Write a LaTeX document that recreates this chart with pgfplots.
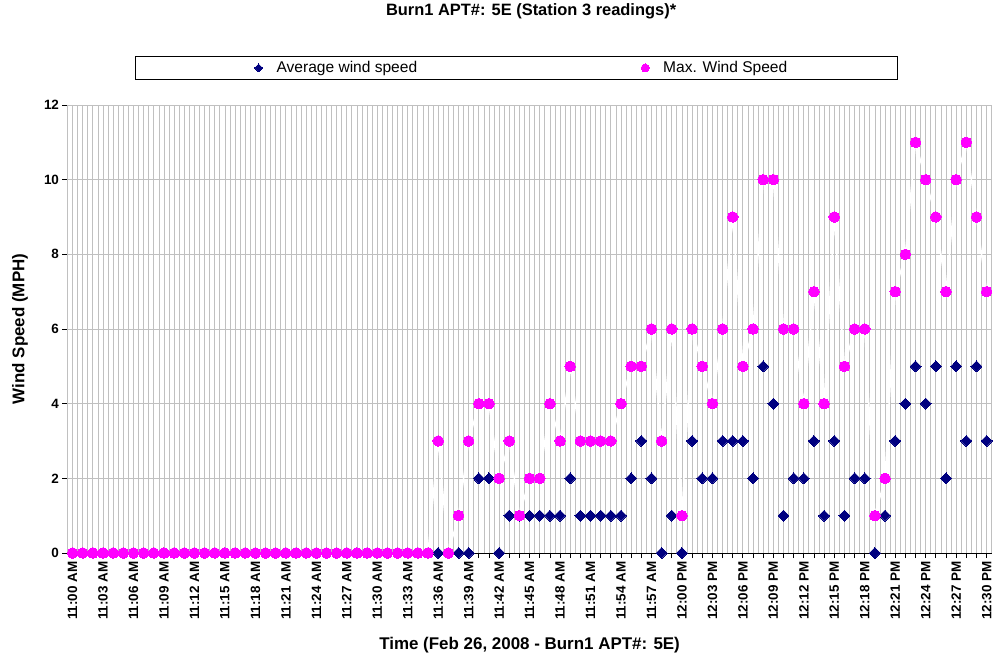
\documentclass[border=0pt]{standalone}
\usepackage{fontspec}
\setmainfont{Liberation Sans}
\usepackage{pgfplots}
\usepackage{pgfplotstable}
\pgfplotsset{compat=1.18}
\definecolor{navyx}{HTML}{000080}
\definecolor{pinkx}{HTML}{FF00FF}
\definecolor{gridx}{HTML}{C0C0C0}
\pgfplotsset{markleg/.style={legend image code/.code={\draw[##1, mark size=4bp] plot coordinates {(0bp,0bp)};}},
  markleg first/.style={legend image code/.code={\path[draw=none, fill=none] (-13bp,0bp) -- (0bp,0bp);\draw[##1, mark size=4bp] plot coordinates {(0bp,0bp)};}}}

\pgfplotstableread{
t avg max
0 0 0
1 0 0
2 0 0
3 0 0
4 0 0
5 0 0
6 0 0
7 0 0
8 0 0
9 0 0
10 0 0
11 0 0
12 0 0
13 0 0
14 0 0
15 0 0
16 0 0
17 0 0
18 0 0
19 0 0
20 0 0
21 0 0
22 0 0
23 0 0
24 0 0
25 0 0
26 0 0
27 0 0
28 0 0
29 0 0
30 0 0
31 0 0
32 0 0
33 0 0
34 0 0
35 0 0
36 0 3
37 0 0
38 0 1
39 0 3
40 2 4
41 2 4
42 0 2
43 1 3
44 1 1
45 1 2
46 1 2
47 1 4
48 1 3
49 2 5
50 1 3
51 1 3
52 1 3
53 1 3
54 1 4
55 2 5
56 3 5
57 2 6
58 0 3
59 1 6
60 0 1
61 3 6
62 2 5
63 2 4
64 3 6
65 3 9
66 3 5
67 2 6
68 5 10
69 4 10
70 1 6
71 2 6
72 2 4
73 3 7
74 1 4
75 3 9
76 1 5
77 2 6
78 2 6
79 0 1
80 1 2
81 3 7
82 4 8
83 5 11
84 4 10
85 5 9
86 2 7
87 5 10
88 3 11
89 5 9
90 3 7
}\windtable

\begin{document}
\begin{tikzpicture}
\path[use as bounding box] (-67.5bp,-105bp) rectangle (926.5bp,553bp);
\begin{axis}[
  at={(0,0)}, anchor=south west,
  scale only axis, width=924.2bp, height=448bp,
  xmin=-0.5, xmax=90.5, ymin=0, ymax=12,
  axis x line*=bottom, axis y line*=left,
  axis line style={-, black, line width=0.8bp},
  xtick={0,1,...,90},
  xticklabels={11:00 AM,,,11:03 AM,,,11:06 AM,,,11:09 AM,,,11:12 AM,,,11:15 AM,,,11:18 AM,,,11:21 AM,,,11:24 AM,,,11:27 AM,,,11:30 AM,,,11:33 AM,,,11:36 AM,,,11:39 AM,,,11:42 AM,,,11:45 AM,,,11:48 AM,,,11:51 AM,,,11:54 AM,,,11:57 AM,,,12:00 PM,,,12:03 PM,,,12:06 PM,,,12:09 PM,,,12:12 PM,,,12:15 PM,,,12:18 PM,,,12:21 PM,,,12:24 PM,,,12:27 PM,,,12:30 PM},
  ytick={0,2,...,12},
  tick align=outside, major tick length=5bp,
  tick style={black, line width=0.8bp},
  grid=major, major grid style={gridx, line width=0.8bp},
  extra x ticks={-0.5,0.5,...,90.5}, extra x tick labels={},
  extra x tick style={grid=major, major tick length=0pt},
  /pgf/number format/assume math mode=true,
  xticklabel style={rotate=90, anchor=east, font=\bfseries\fontsize{13.5}{15}\selectfont},
  yticklabel style={font=\bfseries\fontsize{13.5}{15}\selectfont},
  xlabel={Time (Feb 26, 2008 - Burn1 APT\#: 5E)},
  xlabel style={at={(axis description cs:0.5,0)}, anchor=center, yshift=-92bp, font=\bfseries\fontsize{17}{20}\selectfont},
  ylabel={Wind Speed (MPH)},
  ylabel style={at={(axis description cs:0,0.5)}, anchor=center, yshift=47.5bp, font=\bfseries\fontsize{17}{20}\selectfont},
  title={Burn1 APT\#: 5E (Station 3 readings)*},
  title style={at={(axis description cs:0.5,1)}, anchor=center, yshift=88bp, xshift=1.5bp, font=\bfseries\fontsize{16.5}{19}\selectfont},
  legend columns=2,
  legend cell align=left,
  legend style={at={(axis description cs:0.4858,1.0826)}, anchor=center, draw=black, line width=0.8bp,
    inner xsep=110bp, inner ysep=5bp,
    nodes={inner sep=0pt, font=\fontsize{15.6}{17}\selectfont},
    /tikz/every odd column/.append style={column sep=14bp},
    /tikz/every even column/.append style={column sep=224bp}},
]
\addplot[white, line width=1.5bp, mark=none, forget plot] table[x=t, y=max] {\windtable};
\addplot[only marks, mark=diamond*, mark size=5.5bp, mark options={draw=navyx, fill=navyx, line width=0pt, xscale=1.33}, markleg first]
  table[x=t, y=avg] {\windtable};
\addlegendentry{Average wind speed}
\addplot[only marks, mark=*, mark size=5.3bp, mark options={draw=pinkx, fill=pinkx, line width=0pt}, markleg]
  table[x=t, y=max] {\windtable};
\addlegendentry{Max. Wind Speed}
\end{axis}
\end{tikzpicture}
\end{document}
